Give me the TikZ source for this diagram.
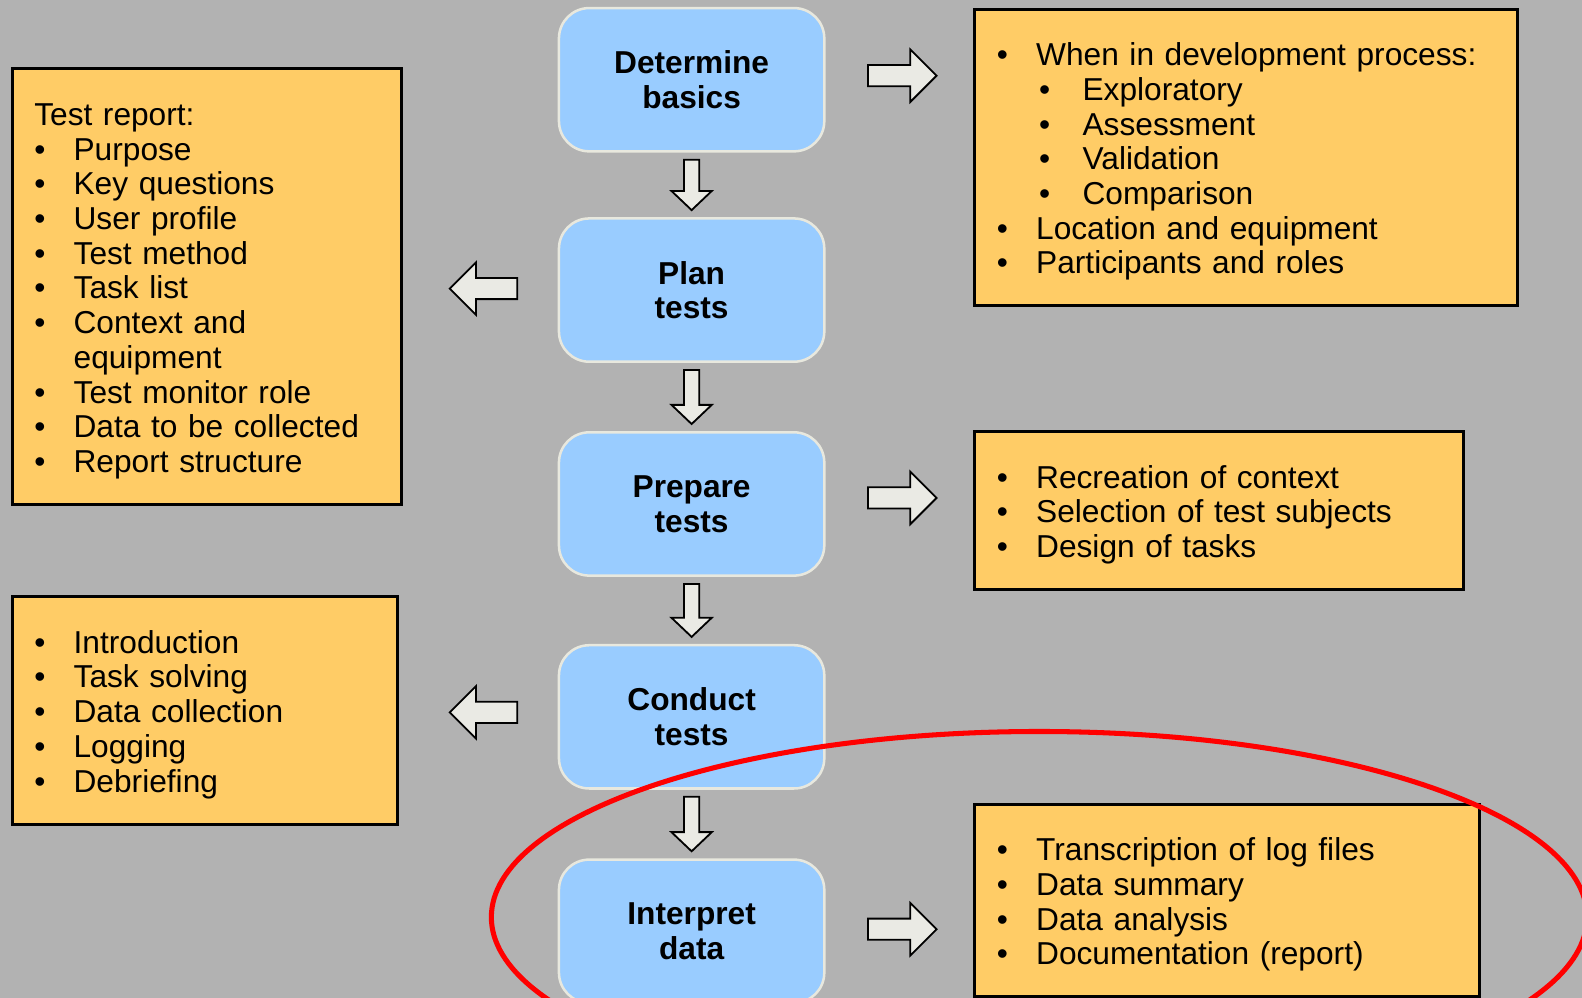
\documentclass[tikz,border=0pt]{standalone}
\usepackage{fontspec}
\setmainfont{Liberation Sans}
\usetikzlibrary{calc}
\definecolor{bgc}{HTML}{B2B2B2}
\definecolor{bluef}{HTML}{99CCFF}
\definecolor{blued}{HTML}{E8E8DE}
\definecolor{orangef}{HTML}{FFCC66}
\definecolor{arrowf}{HTML}{EAEAE4}
\newcommand\myb{\makebox[39pt][l]{•}}
\newcommand\mysb{\hspace*{42pt}\makebox[43pt][l]{•}}
\newcommand\myind{\hspace*{39pt}}
\newcommand\myfirst{\rule{0pt}{31pt}}
\tikzset{
  basefont/.style={font=\fontsize{31.4pt}{34.4pt}\selectfont},
  stepbox/.style={basefont, font=\fontsize{31.4pt}{34.4pt}\selectfont\bfseries,
    draw=blued, line width=2.5pt, fill=bluef, rounded corners=30pt,
    minimum width=263pt, minimum height=142pt, inner sep=0pt, align=center},
  infobox/.style={basefont, draw=black, line width=3pt, fill=orangef,
    inner xsep=22pt, inner ysep=0pt, align=left},
  fatarrow/.style n args={3}{draw=black, line width=1.8pt, fill=arrowf, miter limit=10,
    to path={-- ($(\tikztostart)!#1!90:(\tikztotarget)$)
      -- ($(\tikztotarget)!#3!(\tikztostart)!#1!-90:(\tikztostart)$)
      -- ($(\tikztotarget)!#3!(\tikztostart)!#2!-90:(\tikztostart)$)
      -- (\tikztotarget)
      -- ($(\tikztotarget)!#3!(\tikztostart)!#2!90:(\tikztostart)$)
      -- ($(\tikztotarget)!#3!(\tikztostart)!#1!90:(\tikztostart)$)
      -- ($(\tikztostart)!#1!-90:(\tikztotarget)$)
      -- cycle}},
  downarrow/.style={fatarrow={7.5pt}{20pt}{19pt}},
  sidearrow/.style={fatarrow={10.5pt}{26pt}{26pt}},
  ring/.style={draw=red, line width=5pt}
}
\begin{document}
\begin{tikzpicture}[x=1pt,y=-1pt]
\fill[bgc] (0,0) rectangle (1568,989);
\useasboundingbox (0,0) rectangle (1568,989);

% process steps
\node[stepbox] (det) at (685.5,79) {Determine\\basics};
\node[stepbox] (plan) at (685.5,287.5) {Plan\\tests};
\node[stepbox] (prep) at (685.5,499.5) {Prepare\\tests};
\node[stepbox] (cond) at (685.5,710.5) {Conduct\\tests};
\node[stepbox] (interp) at (685.5,923) {Interpret\\data};

% info boxes
\node[infobox, minimum width=538pt, minimum height=294pt, text width=494pt] (ob1) at (1235,156)
 {\myfirst\myb When in development process:\\
  \mysb Exploratory\\
  \mysb Assessment\\
  \mysb Validation\\
  \mysb Comparison\\
  \myb Location and equipment\\
  \myb Participants and roles};
\node[infobox, minimum width=386pt, minimum height=432pt, text width=342pt] (ob2) at (205,284)
 {\myfirst Test report:\\
  \myb Purpose\\
  \myb Key questions\\
  \myb User profile\\
  \myb Test method\\
  \myb Task list\\
  \myb Context and\\
  \myind equipment\\
  \myb Test monitor role\\
  \myb Data to be collected\\
  \myb Report structure};
\node[infobox, minimum width=485pt, minimum height=156pt, text width=441pt] (ob3) at (1208.5,506)
 {\myfirst\myb Recreation of context\\
  \myb Selection of test subjects\\
  \myb Design of tasks};
\node[infobox, minimum width=382pt, minimum height=226pt, text width=338pt] (ob4) at (203,704)
 {\myfirst\myb Introduction\\
  \myb Task solving\\
  \myb Data collection\\
  \myb Logging\\
  \myb Debriefing};
\node[infobox, minimum width=500pt, minimum height=191pt, text width=456pt] (ob5) at (1216,892.5)
 {\myfirst\myb Transcription of log files\\
  \myb Data summary\\
  \myb Data analysis\\
  \myb Documentation (report)};

% arrow end points
\coordinate (d1s) at ($(det.south)+(0,7)$);
\coordinate (d1e) at ($(plan.north)+(0,-7)$);
\coordinate (d2s) at ($(plan.south)+(0,7)$);
\coordinate (d2e) at ($(prep.north)+(0,-7)$);
\coordinate (d3s) at ($(prep.south)+(0,7)$);
\coordinate (d3e) at ($(cond.north)+(0,-7)$);
\coordinate (d4s) at ($(cond.south)+(0,7)$);
\coordinate (d4e) at ($(interp.north)+(0,-7)$);

\coordinate (r1s) at ($(det.east)+(42,-4)$);
\coordinate (r1e) at ($(det.east)+(110,-4)$);
\coordinate (r2s) at ($(prep.east)+(42,-6)$);
\coordinate (r2e) at ($(prep.east)+(110,-6)$);
\coordinate (r3s) at ($(interp.east)+(42,-2)$);
\coordinate (r3e) at ($(interp.east)+(110,-2)$);
\coordinate (l1s) at ($(plan.west)+(-40,-1.5)$);
\coordinate (l1e) at ($(plan.west)+(-107,-1.5)$);
\coordinate (l2s) at ($(cond.west)+(-40,-4.5)$);
\coordinate (l2e) at ($(cond.west)+(-107,-4.5)$);

\draw[downarrow] (d1s) to (d1e);
\draw[downarrow] (d2s) to (d2e);
\draw[downarrow] (d3s) to (d3e);
\draw[downarrow] (d4s) to (d4e);
\draw[sidearrow] (r1s) to (r1e);
\draw[sidearrow] (r2s) to (r2e);
\draw[sidearrow] (r3s) to (r3e);
\draw[sidearrow] (l1s) to (l1e);
\draw[sidearrow] (l2s) to (l2e);

% highlight ring
\draw[ring] (1030,909) ellipse [x radius=543pt, y radius=184pt];
\end{tikzpicture}
\end{document}
